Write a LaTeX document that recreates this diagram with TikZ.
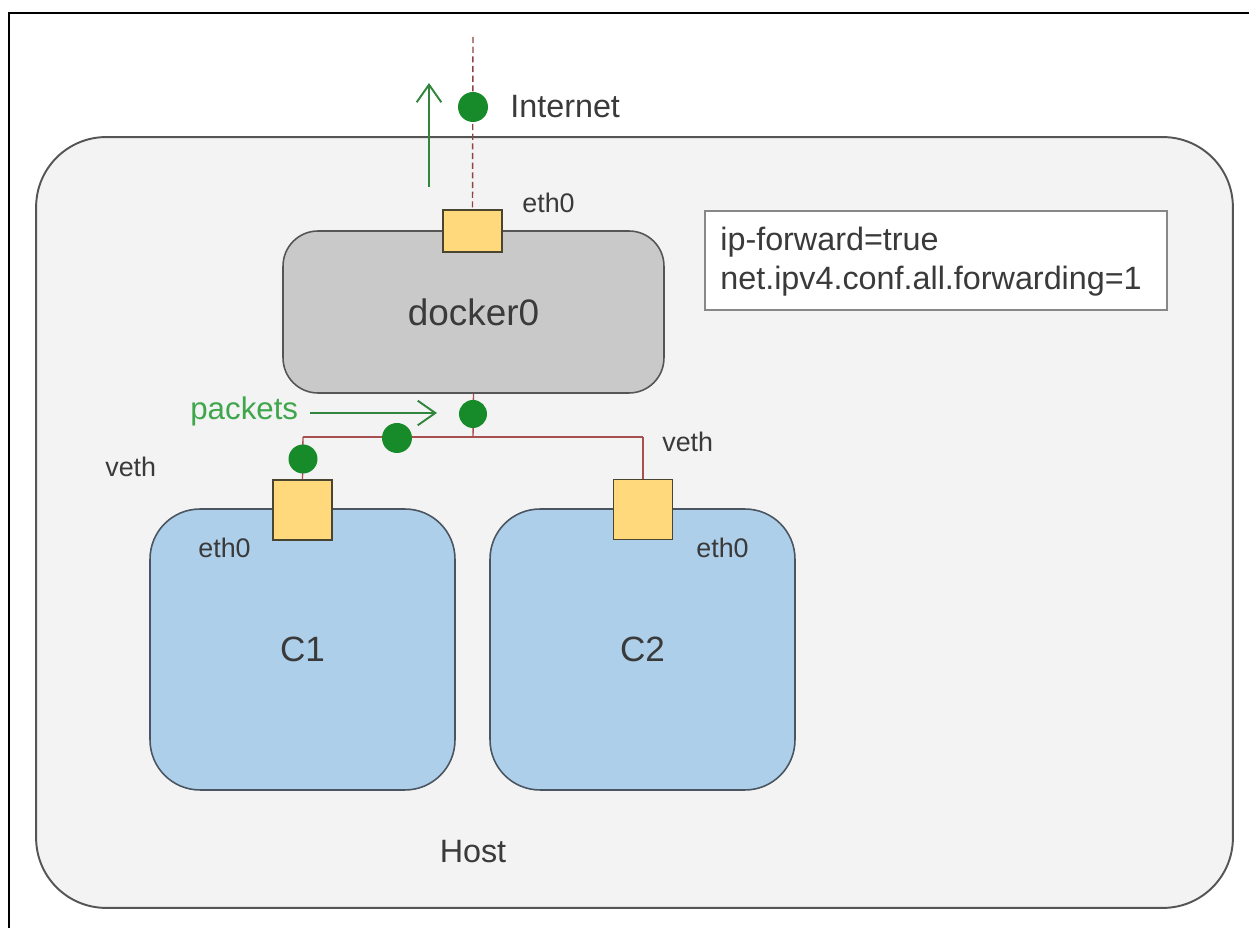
\documentclass[tikz,border=0pt]{standalone}
\usepackage{fontspec}
\setmainfont{Liberation Sans}
\usetikzlibrary{arrows.meta}
\definecolor{hostfill}{HTML}{F3F3F3}
\definecolor{hostdraw}{HTML}{555555}
\definecolor{dockfill}{HTML}{C9C9C9}
\definecolor{portfill}{HTML}{FFD97C}
\definecolor{portdraw}{HTML}{4A4530}
\definecolor{contfill}{HTML}{AECFEA}
\definecolor{contdraw}{HTML}{4A5561}
\definecolor{dotgreen}{HTML}{178A2A}
\definecolor{txtgreen}{HTML}{3FA64C}
\definecolor{wire}{HTML}{A85050}
\definecolor{txt}{HTML}{3A3A3A}
\tikzset{
  hostbox/.style={draw=hostdraw, fill=hostfill, line width=1.1pt, rounded corners=1.4cm, minimum width=23.94cm, minimum height=15.42cm, inner sep=0pt},
  dockbox/.style={draw=hostdraw, fill=dockfill, line width=0.9pt, rounded corners=0.7cm, minimum width=7.62cm, minimum height=3.24cm, inner sep=0pt, text=txt, font=\fontsize{21}{25}\selectfont},
  contbox/.style={draw=contdraw, fill=contfill, line width=0.9pt, rounded corners=1cm, minimum width=6.1cm, minimum height=5.62cm, inner sep=0pt, text=txt, font=\fontsize{20}{24}\selectfont},
  portbox/.style={draw=portdraw, fill=portfill, line width=0.8pt, minimum width=1.18cm, inner sep=0pt},
  infobox/.style={draw=hostdraw!70, fill=white, line width=0.7pt, minimum width=9.24cm, minimum height=1.98cm, inner sep=0pt},
  gdot/.style={circle, fill=dotgreen, inner sep=0pt, minimum size=#1},
  lbl/.style={text=txt, font=\fontsize{18.4}{22}\selectfont, inner sep=0pt},
  slbl/.style={text=txt, font=\fontsize{15.3}{18}\selectfont, inner sep=0pt},
  wireline/.style={draw=wire, line width=0.8pt},
  netline/.style={draw=wire!85!black, line width=0.8pt, dash pattern=on 3.5pt off 2pt},
  garrow/.style={draw=txtgreen!80!black, line width=1pt, -{Straight Barb[length=10pt, width=14pt, line width=1.1pt]}},
}
\begin{document}
\begin{tikzpicture}[x=0.02cm, y=-0.02cm]
\useasboundingbox (0,0) rectangle (1249,928);
% outer frame
\coordinate (fbl) at (9,930);
\coordinate (ftl) at (9,13);
\coordinate (ftr) at (1251,13);
\draw[black, line width=1.3pt] (fbl) -- (ftl) -- (ftr);
% host
\node[hostbox] (host) at (634.5,522.5) {};
\node[lbl] (hostlbl) at (473,852) {Host};
% docker0
\node[dockbox] (d0) at (473.5,312) {docker0};
% internet line
\coordinate (nettop) at (473,37);
\node[portbox, minimum height=0.84cm] (p0) at (472.5,231) {};
\draw[netline] (nettop) -- (p0.north);
\node[gdot=0.6cm] (dnet) at (473,107) {};
\node[lbl, anchor=west] (inet) at (510,107) {Internet};
\node[slbl, anchor=west] (eth0top) at (522,203) {eth0};
% up arrow
\coordinate (upS) at (429,187);
\coordinate (upE) at (429,83);
\draw[garrow] (upS) -- (upE);
% info box
\node[infobox] (info) at (936,260.5) {};
\node[lbl, anchor=west] (info1) at (720,242) {ip-forward=true};
\node[lbl, anchor=west] (info2) at (720,281) {net.ipv4.conf.all.forwarding=1};
% containers
\node[contbox] (c1) at (302.5,649.5) {C1};
\node[contbox] (c2) at (642.5,649.5) {C2};
\node[portbox, minimum height=1.2cm] (p1) at (302.5,510) {};
\node[portbox, minimum height=1.2cm] (p2) at (643,509.5) {};
% wires
\coordinate (jA) at (473,437);
\coordinate (jL) at (303,437);
\coordinate (jR) at (643,437);
\draw[wireline] (d0.south) -- (jA);
\draw[wireline] (jL) -- (jR);
\draw[wireline] (jL) -- (p1.north);
\draw[wireline] (jR) -- (p2.north);
\node[gdot=0.56cm] (dA) at (473,414) {};
\node[gdot=0.6cm] (dM) at (397,438) {};
\node[gdot=0.58cm] (dL) at (303,459) {};
% labels
\node[slbl, anchor=west] (vethL) at (105,467) {veth};
\node[slbl, anchor=west] (vethR) at (662,442) {veth};
\node[slbl, anchor=west] (eth1) at (198,548) {eth0};
\node[slbl, anchor=west] (eth2) at (696,548) {eth0};
% packets
\node[lbl, text=txtgreen, anchor=west, font=\fontsize{17.8}{21}\selectfont] (pk) at (190,411) {packets};
\coordinate (pkS) at (310,413);
\coordinate (pkE) at (437,413);
\draw[garrow] (pkS) -- (pkE);
\end{tikzpicture}
\end{document}
